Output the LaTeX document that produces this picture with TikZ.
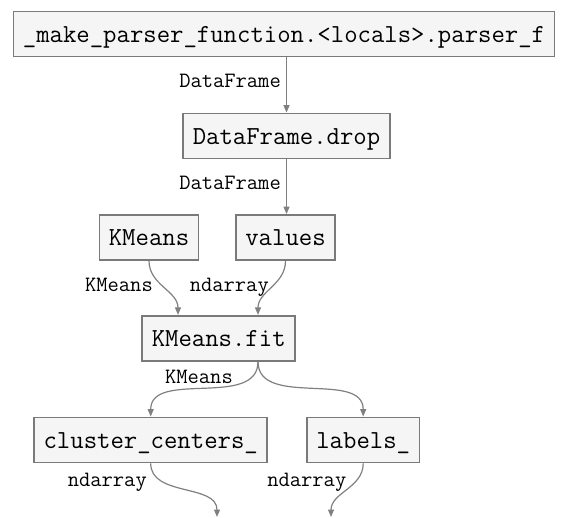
\documentclass[tikz,border=0pt]{standalone}
\usepackage{fontspec}
\usetikzlibrary{arrows.meta}
\definecolor{pfeil}{RGB}{128,128,128}
\definecolor{rahmen}{RGB}{122,122,122}
\definecolor{kasten}{RGB}{245,245,245}

\begin{document}
\begin{tikzpicture}[x=1pt, y=1pt,
    box/.style={draw=rahmen, fill=kasten, line width=1.8pt, minimum height=45pt,
        inner xsep=9.4pt, inner ysep=0pt, text height=21.8pt, text depth=5pt,
        font=\ttfamily\fontsize{26}{30}\selectfont},
    edge/.style={pfeil, line width=1.2pt, -{Triangle[length=7.5pt, width=6pt]}},
    lbl/.style={inner sep=0pt, anchor=base east, font=\ttfamily\fontsize{21.9}{25}\selectfont}]

    \useasboundingbox (0,0) rectangle (562,-518);

    % boxes
    \node[box] (parser) at (284,-34) {\_make\_parser\_function.<locals>.parser\_f};
    \node[box] (drop) at (286.5,-136) {DataFrame.drop};
    \node[box] (kmeans) at (149,-237.5) {KMeans};
    \node[box] (values) at (285.5,-237.5) {values};
    \node[box] (fit) at (218.7,-338.3) {KMeans.fit};
    \node[box] (centers) at (150.7,-440) {cluster\_centers\_};
    \node[box] (labels) at (363.2,-440) {labels\_};
    \coordinate (out1) at (217,-517);
    \coordinate (out2) at (331,-517);

    % connectors
    \draw[edge] (parser.south -| drop.north) -- (drop.north);
    \draw[edge] (drop.south) -- (drop.south |- values.north);
    \draw[edge] (kmeans.south) to[out=-90, in=90] ([xshift=-40.7pt]fit.north);
    \draw[edge] (values.south) to[out=-90, in=90] ([xshift=39.3pt]fit.north);
    \draw[edge] ([xshift=39.3pt]fit.south) to[out=-90, in=90] (centers.north);
    \draw[edge] ([xshift=39.3pt]fit.south) to[out=-90, in=90] (labels.north);
    \draw[edge] (centers.south) to[out=-90, in=90] (out1);
    \draw[edge] (labels.south) to[out=-90, in=90] (out2);

    % edge labels
    \node[lbl] (df1) at (281,-88) {DataFrame};
    \node[lbl] (df2) at (281,-190) {DataFrame};
    \node[lbl] (km1) at (153,-292) {KMeans};
    \node[lbl] (nd1) at (269,-292) {ndarray};
    \node[lbl] (km2) at (233,-384) {KMeans};
    \node[lbl] (nd2) at (147,-486) {ndarray};
    \node[lbl] (nd3) at (346.5,-486) {ndarray};

\end{tikzpicture}
\end{document}
